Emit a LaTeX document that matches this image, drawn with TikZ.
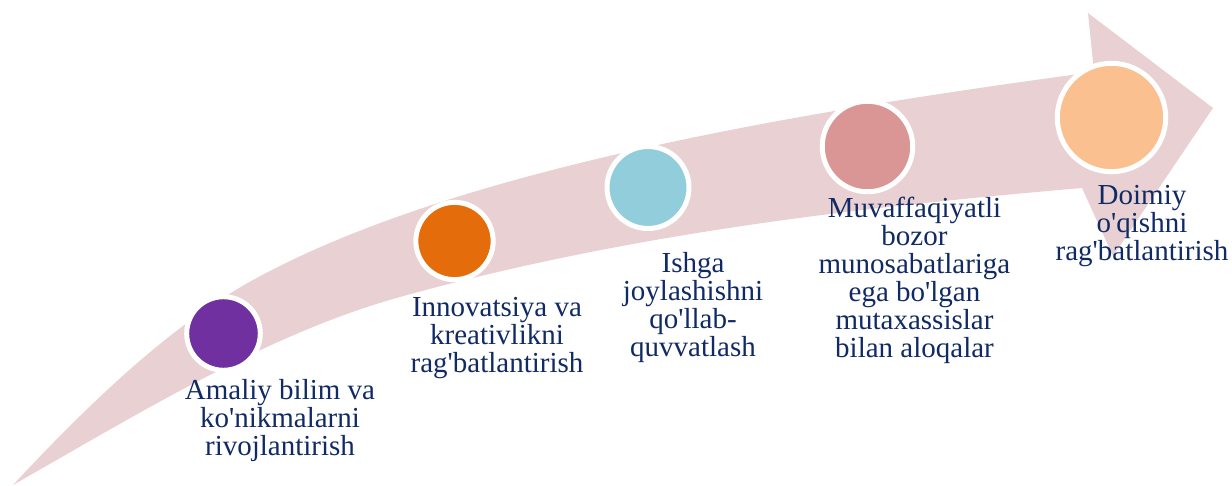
\documentclass[tikz,border=0pt]{standalone}
\usepackage{fontspec}
\setmainfont{Liberation Serif}[Ligatures=TeXOff]
\definecolor{arrowpink}{RGB}{233,209,211}
\definecolor{navy}{RGB}{16,42,100}
\definecolor{cpurple}{RGB}{112,48,160}
\definecolor{corange}{RGB}{228,108,10}
\definecolor{cblue}{RGB}{146,205,220}
\definecolor{crose}{RGB}{217,150,148}
\definecolor{cpeach}{RGB}{250,192,144}
\newcommand{\topstrut}{\rule{0pt}{21pt}}
\begin{document}
\begin{tikzpicture}[x=1pt,y=-1pt,
  dot/.style={circle,draw=white,line width=5pt,inner sep=0pt},
  lbl/.style={text=navy,align=center,anchor=north,inner sep=0pt,font=\fontsize{29}{28}\selectfont}]
\useasboundingbox (0,0) rectangle (1232,486);
% big curved arrow
\fill[arrowpink] (13,485)
  .. controls (93,399) and (173,324) .. (253,280)
  .. controls (453,170) and (795,112) .. (1094,72)
  -- (1088,13) -- (1213,108) -- (1113,256) -- (1082,188)
  .. controls (862,207) and (630,233) .. (400,297)
  .. controls (270,333) and (143,411) .. (13,485)
  -- cycle;
% circles
\node[dot,fill=cpurple,minimum size=73.6pt] (c1) at (223.5,333.5) {};
\node[dot,fill=corange,minimum size=77.3pt] (c2) at (454.5,241) {};
\node[dot,fill=cblue,minimum size=82pt] (c3) at (648,187.5) {};
\node[dot,fill=crose,minimum size=90.5pt] (c4) at (867.5,146.5) {};
\node[dot,fill=cpeach,minimum size=108.4pt] (c5) at (1111.5,117.5) {};
% labels
\node[lbl] (t1) at (280,378) {\topstrut Amaliy bilim va\\ko'nikmalarni\\rivojlantirish};
\node[lbl] (t2) at (497,295) {\topstrut Innovatsiya va\\kreativlikni\\rag'batlantirish};
\node[lbl] (t3) at (693,251) {\topstrut Ishga\\joylashishni\\qo'llab-\\quvvatlash};
\node[lbl] (t4) at (914.5,196) {\topstrut Muvaffaqiyatli\\bozor\\munosabatlariga\\ega bo'lgan\\mutaxassislar\\bilan aloqalar};
\node[lbl] (t5) at (1142,183) {\topstrut Doimiy\\o'qishni\\rag'batlantirish};
\end{tikzpicture}
\end{document}
